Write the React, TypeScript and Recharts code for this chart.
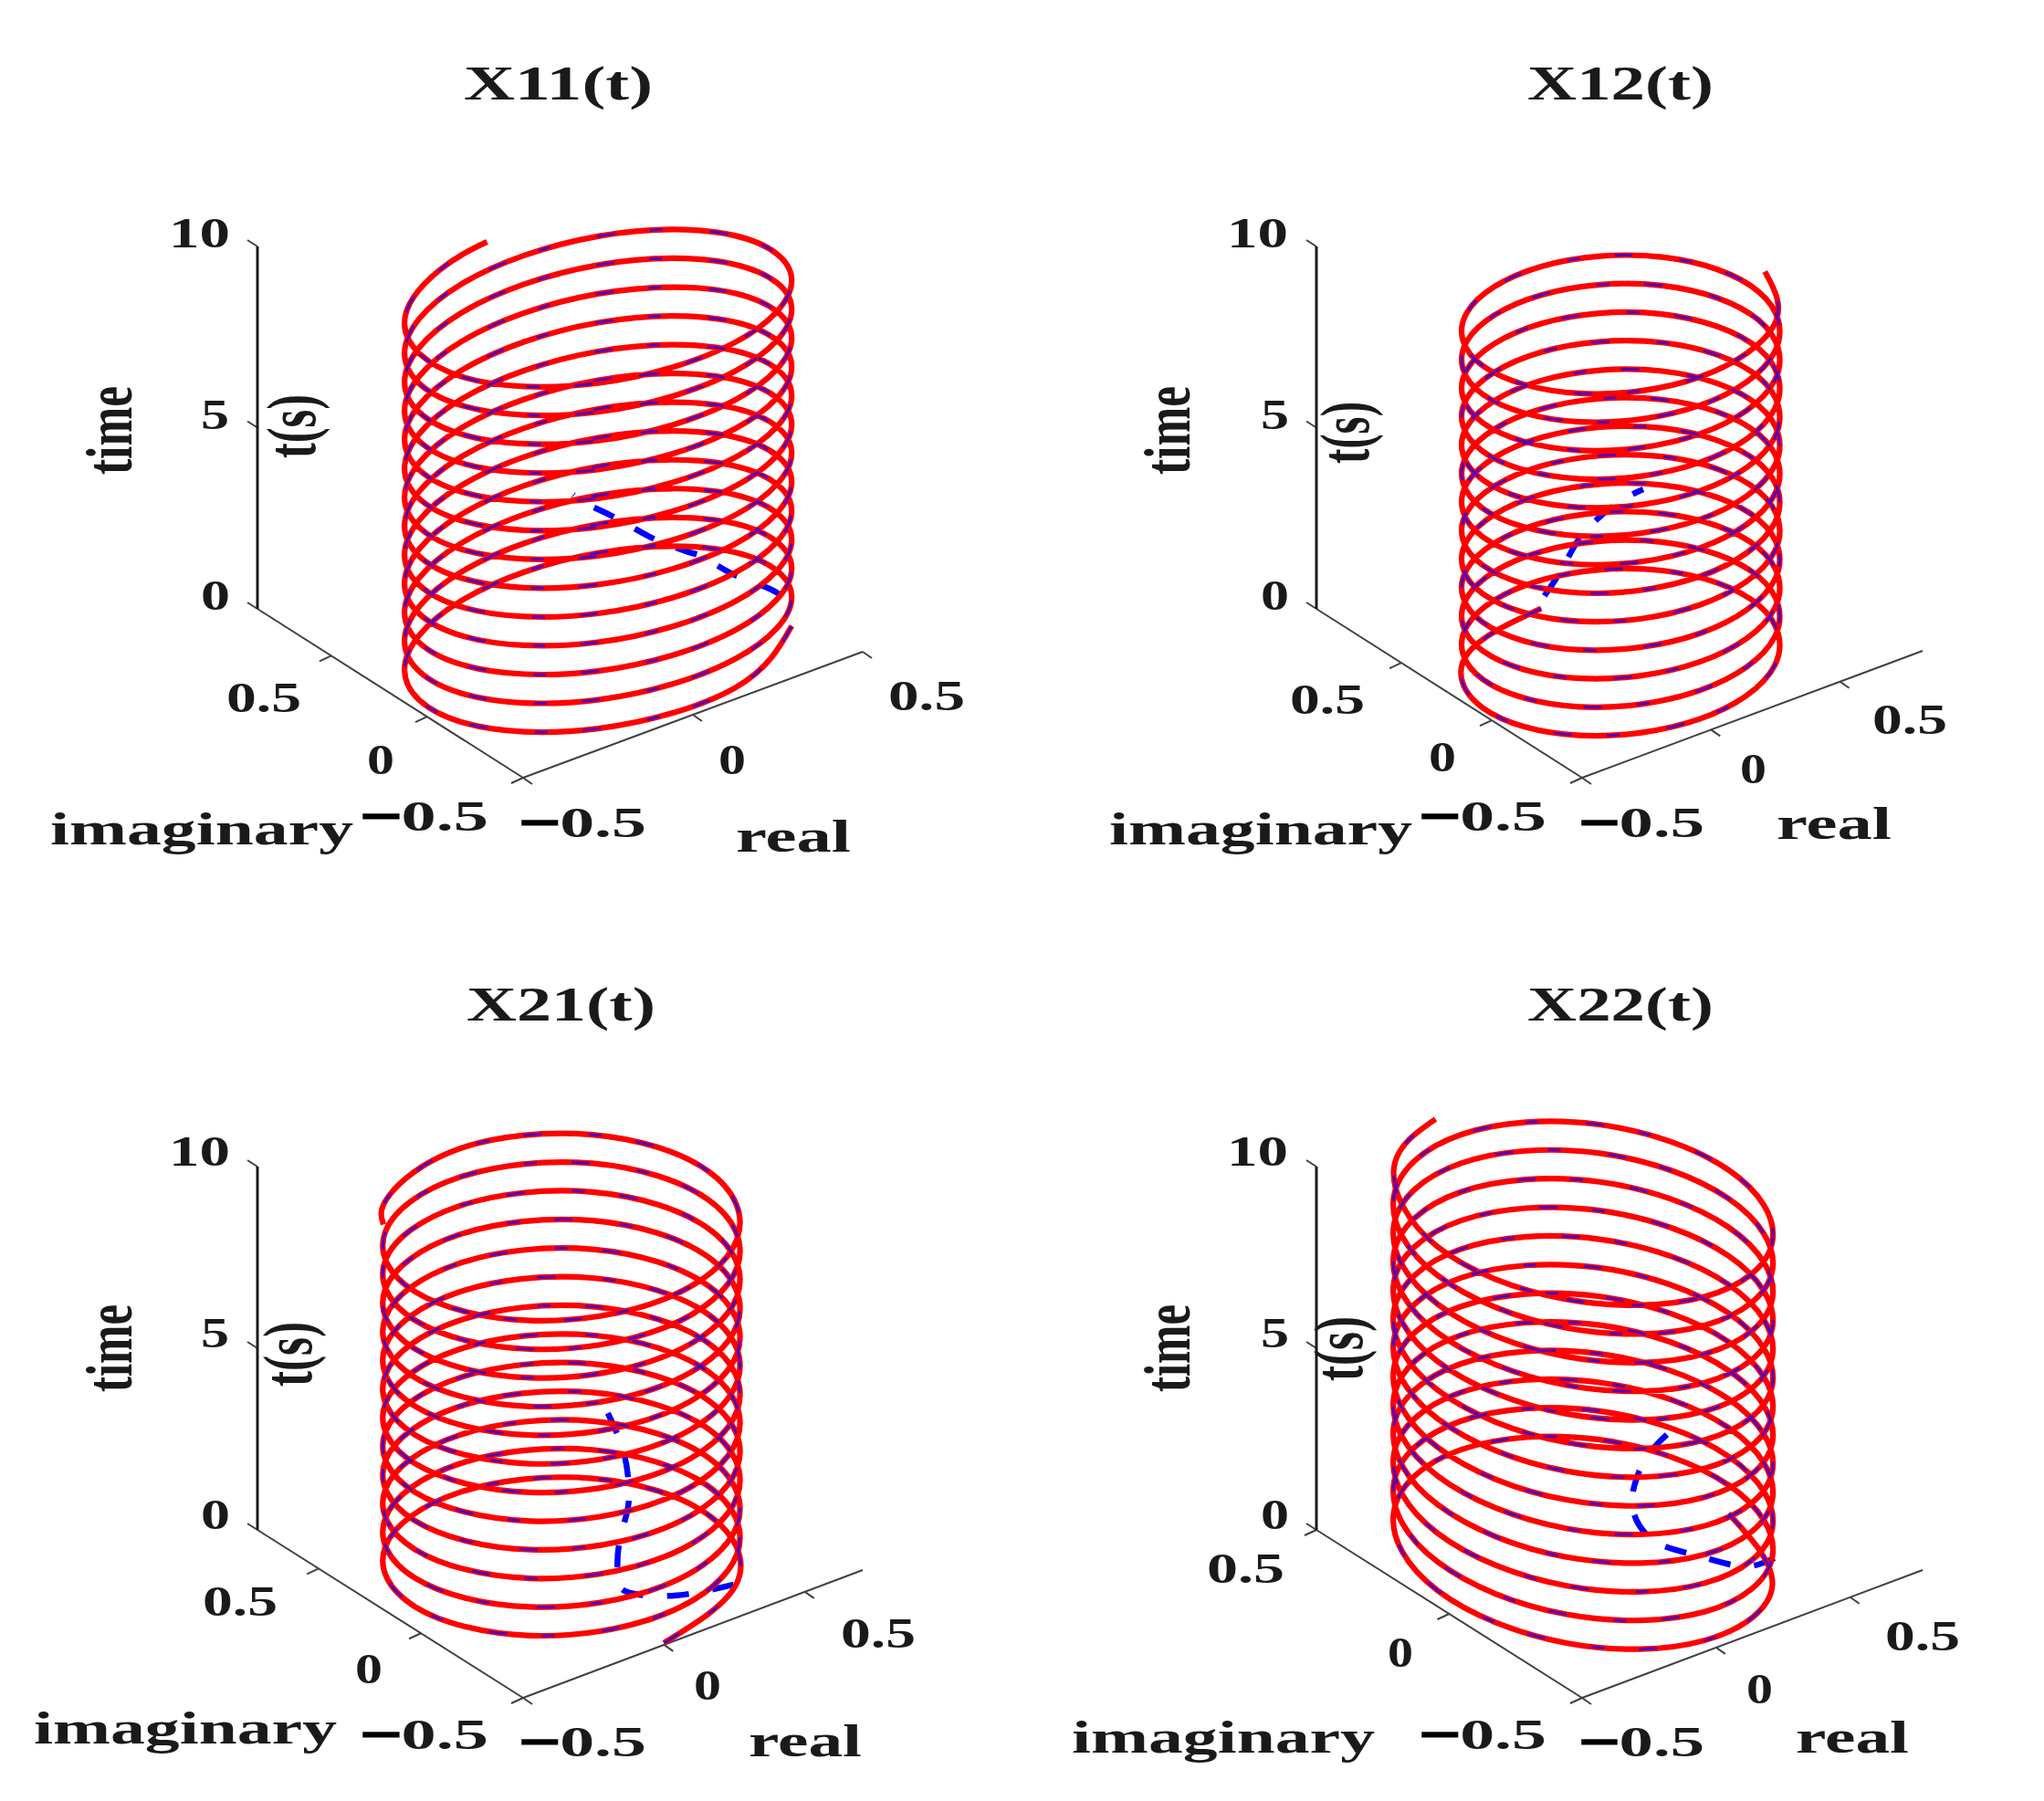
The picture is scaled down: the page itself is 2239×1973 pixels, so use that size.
import React from "react";
import { ComposedChart, Line, XAxis, YAxis } from "recharts";

// time samples (s), shared by the four signals
const timeS = [
  0, 0.099, 0.198, 0.296, 0.395, 0.494, 0.593, 0.692,
  0.79, 0.889, 0.988, 1.087, 1.186, 1.284, 1.383, 1.482,
  1.581, 1.68, 1.778, 1.877, 1.976, 2.075, 2.174, 2.272,
  2.371, 2.47, 2.569, 2.668, 2.766, 2.865, 2.964, 3.063,
  3.162, 3.26, 3.359, 3.458, 3.557, 3.656, 3.754, 3.853,
  3.952, 4.051, 4.15, 4.248, 4.347, 4.446, 4.545, 4.644,
  4.742, 4.841, 4.94, 5.039, 5.138, 5.236, 5.335, 5.434,
  5.533, 5.632, 5.73, 5.829, 5.928, 6.027, 6.126, 6.224,
  6.323, 6.422, 6.521, 6.62, 6.718, 6.817, 6.916, 7.015,
  7.114, 7.212, 7.311, 7.41, 7.509, 7.608, 7.706, 7.805,
  7.904, 8.003, 8.102, 8.2, 8.299, 8.398, 8.497, 8.596,
  8.694, 8.793, 8.892, 8.991, 9.09, 9.188, 9.287, 9.386,
  9.485, 9.584, 9.682, 9.781, 9.88, 9.96, 10,
];

const x11Re = [
  0.451, 0.153, -0.226, -0.464, -0.422, -0.124, 0.255, 0.493,
  0.451, 0.153, -0.226, -0.464, -0.422, -0.124, 0.255, 0.493,
  0.451, 0.153, -0.226, -0.464, -0.422, -0.124, 0.255, 0.493,
  0.451, 0.153, -0.226, -0.464, -0.422, -0.124, 0.255, 0.493,
  0.451, 0.153, -0.226, -0.464, -0.422, -0.124, 0.255, 0.493,
  0.451, 0.153, -0.226, -0.464, -0.422, -0.124, 0.255, 0.493,
  0.451, 0.153, -0.226, -0.464, -0.422, -0.124, 0.255, 0.493,
  0.451, 0.153, -0.226, -0.464, -0.422, -0.124, 0.255, 0.493,
  0.451, 0.153, -0.226, -0.464, -0.422, -0.124, 0.255, 0.493,
  0.451, 0.153, -0.226, -0.464, -0.422, -0.124, 0.255, 0.493,
  0.451, 0.153, -0.226, -0.464, -0.422, -0.124, 0.255, 0.493,
  0.451, 0.153, -0.226, -0.464, -0.422, -0.124, 0.255, 0.493,
  0.451, 0.153, -0.226, -0.464, -0.422, -0.205, -0.039,
];
const x11Im = [
  -0.191, -0.42, -0.382, -0.099, 0.263, 0.493, 0.455, 0.172,
  -0.191, -0.42, -0.382, -0.099, 0.263, 0.493, 0.455, 0.172,
  -0.191, -0.42, -0.382, -0.099, 0.263, 0.493, 0.455, 0.172,
  -0.191, -0.42, -0.382, -0.099, 0.263, 0.493, 0.455, 0.172,
  -0.191, -0.42, -0.382, -0.099, 0.263, 0.493, 0.455, 0.172,
  -0.191, -0.42, -0.382, -0.099, 0.263, 0.493, 0.455, 0.172,
  -0.191, -0.42, -0.382, -0.099, 0.263, 0.493, 0.455, 0.172,
  -0.191, -0.42, -0.382, -0.099, 0.263, 0.493, 0.455, 0.172,
  -0.191, -0.42, -0.382, -0.099, 0.263, 0.493, 0.455, 0.172,
  -0.191, -0.42, -0.382, -0.099, 0.263, 0.493, 0.455, 0.172,
  -0.191, -0.42, -0.382, -0.099, 0.263, 0.493, 0.455, 0.172,
  -0.191, -0.42, -0.382, -0.099, 0.263, 0.493, 0.455, 0.172,
  -0.191, -0.42, -0.382, -0.099, 0.263, 0.462, 0.509,
];
const x12Re = [
  0.081, -0.287, -0.476, -0.377, -0.047, 0.32, 0.51, 0.411,
  0.081, -0.287, -0.476, -0.377, -0.047, 0.32, 0.51, 0.411,
  0.081, -0.287, -0.476, -0.377, -0.047, 0.32, 0.51, 0.411,
  0.081, -0.287, -0.476, -0.377, -0.047, 0.32, 0.51, 0.411,
  0.081, -0.287, -0.476, -0.377, -0.047, 0.32, 0.51, 0.411,
  0.081, -0.287, -0.476, -0.377, -0.047, 0.32, 0.51, 0.411,
  0.081, -0.287, -0.476, -0.377, -0.047, 0.32, 0.51, 0.411,
  0.081, -0.287, -0.476, -0.377, -0.047, 0.32, 0.51, 0.411,
  0.081, -0.287, -0.476, -0.377, -0.047, 0.32, 0.51, 0.411,
  0.081, -0.287, -0.476, -0.377, -0.047, 0.32, 0.51, 0.411,
  0.081, -0.287, -0.476, -0.377, -0.047, 0.32, 0.51, 0.411,
  0.081, -0.287, -0.476, -0.377, -0.047, 0.32, 0.51, 0.411,
  0.081, -0.287, -0.476, -0.377, -0.047, 0.32, 0.502,
];
const x12Im = [
  0.508, 0.386, 0.044, -0.319, -0.49, -0.369, -0.026, 0.337,
  0.508, 0.386, 0.044, -0.319, -0.49, -0.369, -0.026, 0.337,
  0.508, 0.386, 0.044, -0.319, -0.49, -0.369, -0.026, 0.337,
  0.508, 0.386, 0.044, -0.319, -0.49, -0.369, -0.026, 0.337,
  0.508, 0.386, 0.044, -0.319, -0.49, -0.369, -0.026, 0.337,
  0.508, 0.386, 0.044, -0.319, -0.49, -0.369, -0.026, 0.337,
  0.508, 0.386, 0.044, -0.319, -0.49, -0.369, -0.026, 0.337,
  0.508, 0.386, 0.044, -0.319, -0.49, -0.369, -0.026, 0.337,
  0.508, 0.386, 0.044, -0.319, -0.49, -0.369, -0.026, 0.337,
  0.508, 0.386, 0.044, -0.319, -0.49, -0.369, -0.026, 0.337,
  0.508, 0.386, 0.044, -0.319, -0.49, -0.369, -0.026, 0.337,
  0.508, 0.386, 0.044, -0.319, -0.49, -0.369, -0.026, 0.337,
  0.508, 0.386, 0.044, -0.319, -0.49, -0.369, -0.069,
];
const x21Re = [
  -0.005, 0.353, 0.513, 0.38, 0.033, -0.325, -0.485, -0.352,
  -0.005, 0.353, 0.513, 0.38, 0.033, -0.325, -0.485, -0.352,
  -0.005, 0.353, 0.513, 0.38, 0.033, -0.325, -0.485, -0.352,
  -0.005, 0.353, 0.513, 0.38, 0.033, -0.325, -0.485, -0.352,
  -0.005, 0.353, 0.513, 0.38, 0.033, -0.325, -0.485, -0.352,
  -0.005, 0.353, 0.513, 0.38, 0.033, -0.325, -0.485, -0.352,
  -0.005, 0.353, 0.513, 0.38, 0.033, -0.325, -0.485, -0.352,
  -0.005, 0.353, 0.513, 0.38, 0.033, -0.325, -0.485, -0.352,
  -0.005, 0.353, 0.513, 0.38, 0.033, -0.325, -0.485, -0.352,
  -0.005, 0.353, 0.513, 0.38, 0.033, -0.325, -0.485, -0.352,
  -0.005, 0.353, 0.513, 0.38, 0.033, -0.325, -0.485, -0.352,
  -0.005, 0.353, 0.513, 0.38, 0.033, -0.325, -0.485, -0.352,
  -0.005, 0.353, 0.513, 0.38, 0.033, -0.292, -0.408,
];
const x21Im = [
  -0.487, -0.346, 0.005, 0.361, 0.512, 0.371, 0.02, -0.336,
  -0.487, -0.346, 0.005, 0.361, 0.512, 0.371, 0.02, -0.336,
  -0.487, -0.346, 0.005, 0.361, 0.512, 0.371, 0.02, -0.336,
  -0.487, -0.346, 0.005, 0.361, 0.512, 0.371, 0.02, -0.336,
  -0.487, -0.346, 0.005, 0.361, 0.512, 0.371, 0.02, -0.336,
  -0.487, -0.346, 0.005, 0.361, 0.512, 0.371, 0.02, -0.336,
  -0.487, -0.346, 0.005, 0.361, 0.512, 0.371, 0.02, -0.336,
  -0.487, -0.346, 0.005, 0.361, 0.512, 0.371, 0.02, -0.336,
  -0.487, -0.346, 0.005, 0.361, 0.512, 0.371, 0.02, -0.336,
  -0.487, -0.346, 0.005, 0.361, 0.512, 0.371, 0.02, -0.336,
  -0.487, -0.346, 0.005, 0.361, 0.512, 0.371, 0.02, -0.336,
  -0.487, -0.346, 0.005, 0.361, 0.512, 0.371, 0.02, -0.336,
  -0.487, -0.346, 0.005, 0.361, 0.512, 0.4, 0.269,
];
const x22Re = [
  0.499, 0.327, -0.035, -0.374, -0.492, -0.32, 0.042, 0.381,
  0.499, 0.327, -0.035, -0.374, -0.492, -0.32, 0.042, 0.381,
  0.499, 0.327, -0.035, -0.374, -0.492, -0.32, 0.042, 0.381,
  0.499, 0.327, -0.035, -0.374, -0.492, -0.32, 0.042, 0.381,
  0.499, 0.327, -0.035, -0.374, -0.492, -0.32, 0.042, 0.381,
  0.499, 0.327, -0.035, -0.374, -0.492, -0.32, 0.042, 0.381,
  0.499, 0.327, -0.035, -0.374, -0.492, -0.32, 0.042, 0.381,
  0.499, 0.327, -0.035, -0.374, -0.492, -0.32, 0.042, 0.381,
  0.499, 0.327, -0.035, -0.374, -0.492, -0.32, 0.042, 0.381,
  0.499, 0.327, -0.035, -0.374, -0.492, -0.32, 0.042, 0.381,
  0.499, 0.327, -0.035, -0.374, -0.492, -0.32, 0.042, 0.381,
  0.499, 0.327, -0.035, -0.374, -0.492, -0.32, 0.042, 0.381,
  0.499, 0.327, -0.035, -0.374, -0.492, -0.32, -0.053,
];
const x22Im = [
  -0.017, -0.359, -0.482, -0.313, 0.048, 0.39, 0.513, 0.344,
  -0.017, -0.359, -0.482, -0.313, 0.048, 0.39, 0.513, 0.344,
  -0.017, -0.359, -0.482, -0.313, 0.048, 0.39, 0.513, 0.344,
  -0.017, -0.359, -0.482, -0.313, 0.048, 0.39, 0.513, 0.344,
  -0.017, -0.359, -0.482, -0.313, 0.048, 0.39, 0.513, 0.344,
  -0.017, -0.359, -0.482, -0.313, 0.048, 0.39, 0.513, 0.344,
  -0.017, -0.359, -0.482, -0.313, 0.048, 0.39, 0.513, 0.344,
  -0.017, -0.359, -0.482, -0.313, 0.048, 0.39, 0.513, 0.344,
  -0.017, -0.359, -0.482, -0.313, 0.048, 0.39, 0.513, 0.344,
  -0.017, -0.359, -0.482, -0.313, 0.048, 0.39, 0.513, 0.344,
  -0.017, -0.359, -0.482, -0.313, 0.048, 0.39, 0.513, 0.344,
  -0.017, -0.359, -0.482, -0.313, 0.048, 0.39, 0.513, 0.344,
  -0.017, -0.359, -0.482, -0.313, 0.048, 0.39, 0.51,
];

// early part of the estimate (blue), before it settles on the true signal
const x11BlueT = [0, 0.24, 0.73, 1.15, 1.8, 2.07, 2.48, 2.95, 3.88, 4.47, 4.85];
const x11BlueRe = [0.523, 0.496, 0.429, 0.373, 0.301, 0.261, 0.202, 0.14, 0.033, -0.041, -0.079];
const x11BlueIm = [0, 0, 0, 0, 0, 0, 0, 0, 0, 0, 0];
const x12BlueT = [2.9, 3.53, 4.22, 4.71, 4.85];
const x12BlueRe = [-0.276, -0.204, -0.133, -0.01, 0.095];
const x12BlueIm = [0, 0, 0, 0, 0];
const x21BlueT = [0.38, 0.67, 1.24, 1.8, 2.66, 3.48, 4.18, 5.3, 6.75];
const x21BlueRe = [0.3, 0.104, -0.061, -0.099, -0.095, -0.067, -0.061, -0.083, -0.151];
const x21BlueIm = [-0.4, -0.4, -0.4, -0.4, -0.4, -0.4, -0.4, -0.4, -0.4];
const x22BlueT = [0.4, 0.5, 1.26, 2.07, 3.04, 3.84, 4.58, 5.08];
const x22BlueRe = [0.392, 0.277, 0.113, -0.038, -0.116, -0.116, -0.061, 0.044];
const x22BlueIm = [-0.3, -0.3, -0.3, -0.3, -0.3, -0.3, -0.3, -0.3];

const axisTicks = [-0.5, 0, 0.5];
const timeTicks = [0, 5, 10];

type Txt = [string, number, number, number];
const MINUS = "\u2212";

const panels = [
  {
    title: "X11(t)", re: x11Re, im: x11Im, bt: x11BlueT, bre: x11BlueRe, bim: x11BlueIm,
    box: [0, 0, 1120, 990],
    basis: { c: [578, 860], r: [374, -141], i: [-215, -130], z: 39.9 },
    frame: { corner: [573, 852], realEnd: [945, 714], imagEnd: [282, 667], topY: 270, realMax: 0.5, imagMax: 0.885 },
    titleAt: [508, 715, 109],
    texts: [
      ["10", 185, 252, 271], ["5", 220, 251, 470], ["0", 220, 252, 668],
      ["0.5", 248, 330, 780], ["0", 402, 432, 848], ["0.5", 396, 535, 910, 1],
      ["0.5", 570, 708, 917, 1], ["0", 787, 817, 848], ["0.5", 973, 1057, 778],
    ] as any[],
    realAt: [806, 932, 933], imagAt: [55, 387, 925],
    timeAt: [144, 423, 520], tsAt: [345, 432, 502],
  },
  {
    title: "X12(t)", re: x12Re, im: x12Im, bt: x12BlueT, bre: x12BlueRe, bim: x12BlueIm,
    box: [1120, 0, 1119, 990],
    basis: { c: [1732.6, 852.7], r: [291.4, -107], i: [-212, -122.9], z: 39.5 },
    frame: { corner: [1733, 852], realEnd: [2106, 713], imagEnd: [1442, 667], topY: 270, realMax: 0.82, imagMax: 0.97 },
    titleAt: [1673, 1877, 109],
    texts: [
      ["10", 1344, 1411, 271], ["5", 1381, 1412, 470], ["0", 1381, 1412, 668],
      ["0.5", 1413, 1495, 782], ["0", 1565, 1595, 845], ["0.5", 1556, 1694, 910, 1],
      ["0.5", 1731, 1867, 917, 1], ["0", 1906, 1935, 858], ["0.5", 2051, 2133, 804],
    ] as any[],
    realAt: [1946, 2072, 919], imagAt: [1215, 1547, 925],
    timeAt: [1303, 423, 520], tsAt: [1499, 440, 508],
  },
  {
    title: "X21(t)", re: x21Re, im: x21Im, bt: x21BlueT, bre: x21BlueRe, bim: x21BlueIm,
    box: [0, 990, 1120, 983],
    basis: { c: [572.8, 1860.6], r: [318.1, -118.9], i: [-236.8, -144.7], z: 39.7 },
    frame: { corner: [573, 1860], realEnd: [945, 1720], imagEnd: [282, 1676], topY: 1278, realMax: 0.705, imagMax: 0.8 },
    titleAt: [511, 718, 1118],
    texts: [
      ["10", 185, 252, 1277], ["5", 220, 251, 1476], ["0", 220, 252, 1675],
      ["0.5", 222, 304, 1770], ["0", 389, 419, 1844], ["0.5", 396, 535, 1916, 1],
      ["0.5", 570, 708, 1924, 1], ["0", 760, 790, 1862], ["0.5", 921, 1003, 1805],
    ] as any[],
    realAt: [820, 944, 1924], imagAt: [37, 369, 1910],
    timeAt: [144, 1429, 1525], tsAt: [341, 1448, 1519],
  },
  {
    title: "X22(t)", re: x22Re, im: x22Im, bt: x22BlueT, bre: x22BlueRe, bim: x22BlueIm,
    box: [1120, 990, 1119, 983],
    basis: { c: [1732.6, 1860.6], r: [302.3, -113], i: [-292.3, -185.3], z: 39.7 },
    frame: { corner: [1733, 1860], realEnd: [2106, 1720], imagEnd: [1442, 1676], topY: 1278, realMax: 0.77, imagMax: 0.5 },
    titleAt: [1673, 1877, 1118],
    texts: [
      ["10", 1344, 1411, 1277], ["5", 1381, 1412, 1476], ["0", 1381, 1412, 1675],
      ["0.5", 1322, 1407, 1734], ["0", 1520, 1548, 1826], ["0.5", 1556, 1694, 1916, 1],
      ["0.5", 1731, 1867, 1924, 1], ["0", 1913, 1942, 1866], ["0.5", 2065, 2147, 1808],
    ] as any[],
    realAt: [1967, 2091, 1920], imagAt: [1174, 1506, 1920],
    timeAt: [1303, 1429, 1525], tsAt: [1492, 1442, 1513],
  },
];

const FONT = "'Liberation Serif', serif";
const INK = "#1a1a1a";

function Panel({ p }: { p: (typeof panels)[number] }) {
  const [left, top, w, h] = p.box;
  const { c, r, i, z } = p.basis;
  const project = (re: number, im: number, t: number) => ({
    x: c[0] + r[0] * (re + 0.5) + i[0] * (im + 0.5),
    y: c[1] + r[1] * (re + 0.5) + i[1] * (im + 0.5) - z * t,
  });
  const helix = p.re.map((re, k) => project(re, p.im[k], timeS[k]));
  const early = p.bt.map((t, k) => project(p.bre[k], p.bim[k], t));

  const f = p.frame;
  const along = (end: number[], v: number, max: number) => {
    const u = (v + 0.5) / (max + 0.5);
    return { x: f.corner[0] + (end[0] - f.corner[0]) * u, y: f.corner[1] + (end[1] - f.corner[1]) * u };
  };
  const tickAt = (a: { x: number; y: number }, dx: number, dy: number) => [a, { x: a.x + dx, y: a.y + dy }];
  const tBaseY = f.imagEnd[1];
  const tx = f.imagEnd[0];
  const axes = [
    [{ x: f.corner[0], y: f.corner[1] }, { x: f.realEnd[0], y: f.realEnd[1] }],
    [{ x: f.corner[0], y: f.corner[1] }, { x: f.imagEnd[0], y: f.imagEnd[1] }],
  ];
  const ticks = [
    ...axisTicks.map((v) => tickAt(along(f.realEnd, v, f.realMax), 10, 7)),
    ...axisTicks.map((v) => tickAt(along(f.imagEnd, v, f.imagMax), -13, 6)),
    ...timeTicks.map((v) => tickAt({ x: tx, y: tBaseY + ((f.topY - tBaseY) * v) / 10 }, -11, -7)),
  ];
  const timeAxis = [{ x: tx, y: tBaseY }, { x: tx, y: f.topY }];

  const common = { isAnimationActive: false, dot: false, activeDot: false, dataKey: "y", legendType: "none" as const };

  const label = (s: string, a: number[], size: number, key: string, minus = false) => (
    <text key={key} x={a[0]} y={a[2]} textLength={a[1] - a[0]} lengthAdjust="spacingAndGlyphs"
      fontFamily={FONT} fontWeight={700} fontSize={size} fill={INK}>
      {minus ? <tspan fill="#000000" stroke="#000000" strokeWidth={3}>{MINUS}</tspan> : null}
      {s}
    </text>
  );
  const vertical = (s: string, a: number[], size: number, key: string) => (
    <text key={key} x={a[0]} y={a[2]} transform={`rotate(-90 ${a[0]} ${a[2]})`} textLength={a[2] - a[1]}
      lengthAdjust="spacingAndGlyphs" fontFamily={FONT} fontWeight={700} fontSize={size} fill={INK}>{s}</text>
  );

  return (
    <div style={{ position: "absolute", left, top, width: w, height: h }}>
      <ComposedChart width={w} height={h} margin={{ top: 0, right: 0, bottom: 0, left: 0 }}>
        <XAxis type="number" dataKey="x" domain={[left, left + w]} hide allowDataOverflow />
        <YAxis type="number" domain={[top, top + h]} reversed hide allowDataOverflow />
        {axes.map((d, k) => (
          <Line key={`a${k}`} {...common} data={d} type="linear" stroke="#404040" strokeWidth={2} />
        ))}
        {ticks.map((d, k) => (
          <Line key={`t${k}`} {...common} data={d} type="linear" stroke="#404040" strokeWidth={2} />
        ))}
        <Line {...common} data={timeAxis} type="linear" stroke="#1a1a1a" strokeWidth={3} />
        <Line {...common} name="estimate early" data={early} type="natural" stroke="#0000ff" strokeWidth={6.5} strokeDasharray="24 26" />
        <Line {...common} name="true" data={helix} type="natural" stroke="#ff0000" strokeWidth={6.2} />
        <Line {...common} name="estimate" data={helix} type="natural" stroke="#1400ff" strokeOpacity={0.72} strokeWidth={3} strokeDasharray="20 38 14 52" />
        <g transform={`translate(${-left} ${-top})`}>
          {label(p.title, p.titleAt, 52, "title")}
          {p.texts.map((t, k) => label(t[0], [t[1], t[2], t[3]], 47, `n${k}`, !!t[4]))}
          {label("real", p.realAt, 50, "real")}
          {label("imaginary", p.imagAt, 50, "imag")}
          {vertical("time", p.timeAt, 72, "time")}
          {vertical("t(s)", p.tsAt, 76, "ts")}
        </g>
      </ComposedChart>
    </div>
  );
}

export default function App() {
  return (
    <div style={{ position: "absolute", left: 0, top: 0, width: 2239, height: 1973, background: "#ffffff" }}>
      {panels.map((p) => (
        <Panel key={p.title} p={p} />
      ))}
    </div>
  );
}
